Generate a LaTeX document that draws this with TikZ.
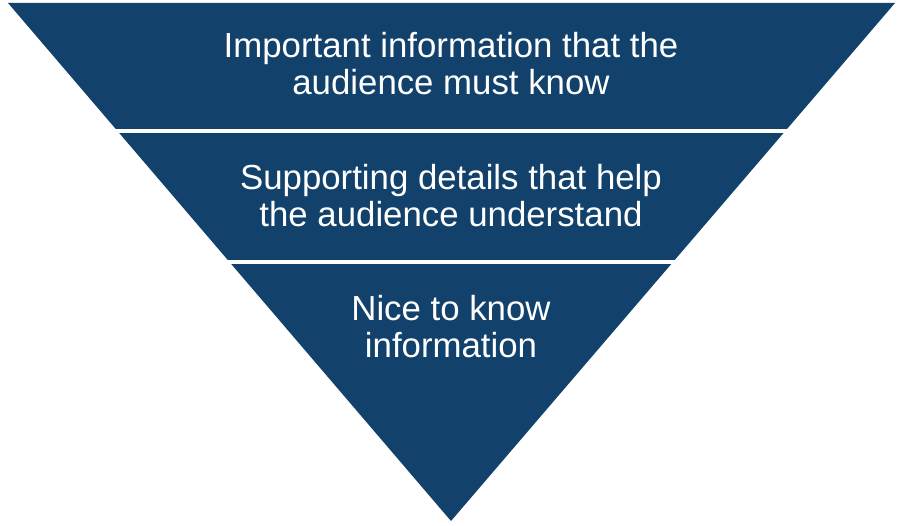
\documentclass[tikz,border=0pt]{standalone}
\usepackage{fontspec}
\setmainfont{Liberation Sans}
\definecolor{navy}{HTML}{12416B}
\begin{document}
\begin{tikzpicture}[x=1pt,y=-1pt,
  lbl/.style={text=white,align=center,font=\fontsize{34.8}{37}\selectfont},
  sep/.style={draw=white,line width=3.5pt}]
\useasboundingbox (0,0) rectangle (903,526);
\fill[navy] (8,3) -- (895,3) -- (451,521) -- cycle;
\draw[sep] (100,131) -- (800,131);
\draw[sep] (200,262) -- (700,262);
\node[lbl] (a) at (451,64) {Important information that the\\audience must know};
\node[lbl] (b) at (451,196) {Supporting details that help\\the audience understand};
\node[lbl] (c) at (451,327) {Nice to know\\information};
\end{tikzpicture}
\end{document}
